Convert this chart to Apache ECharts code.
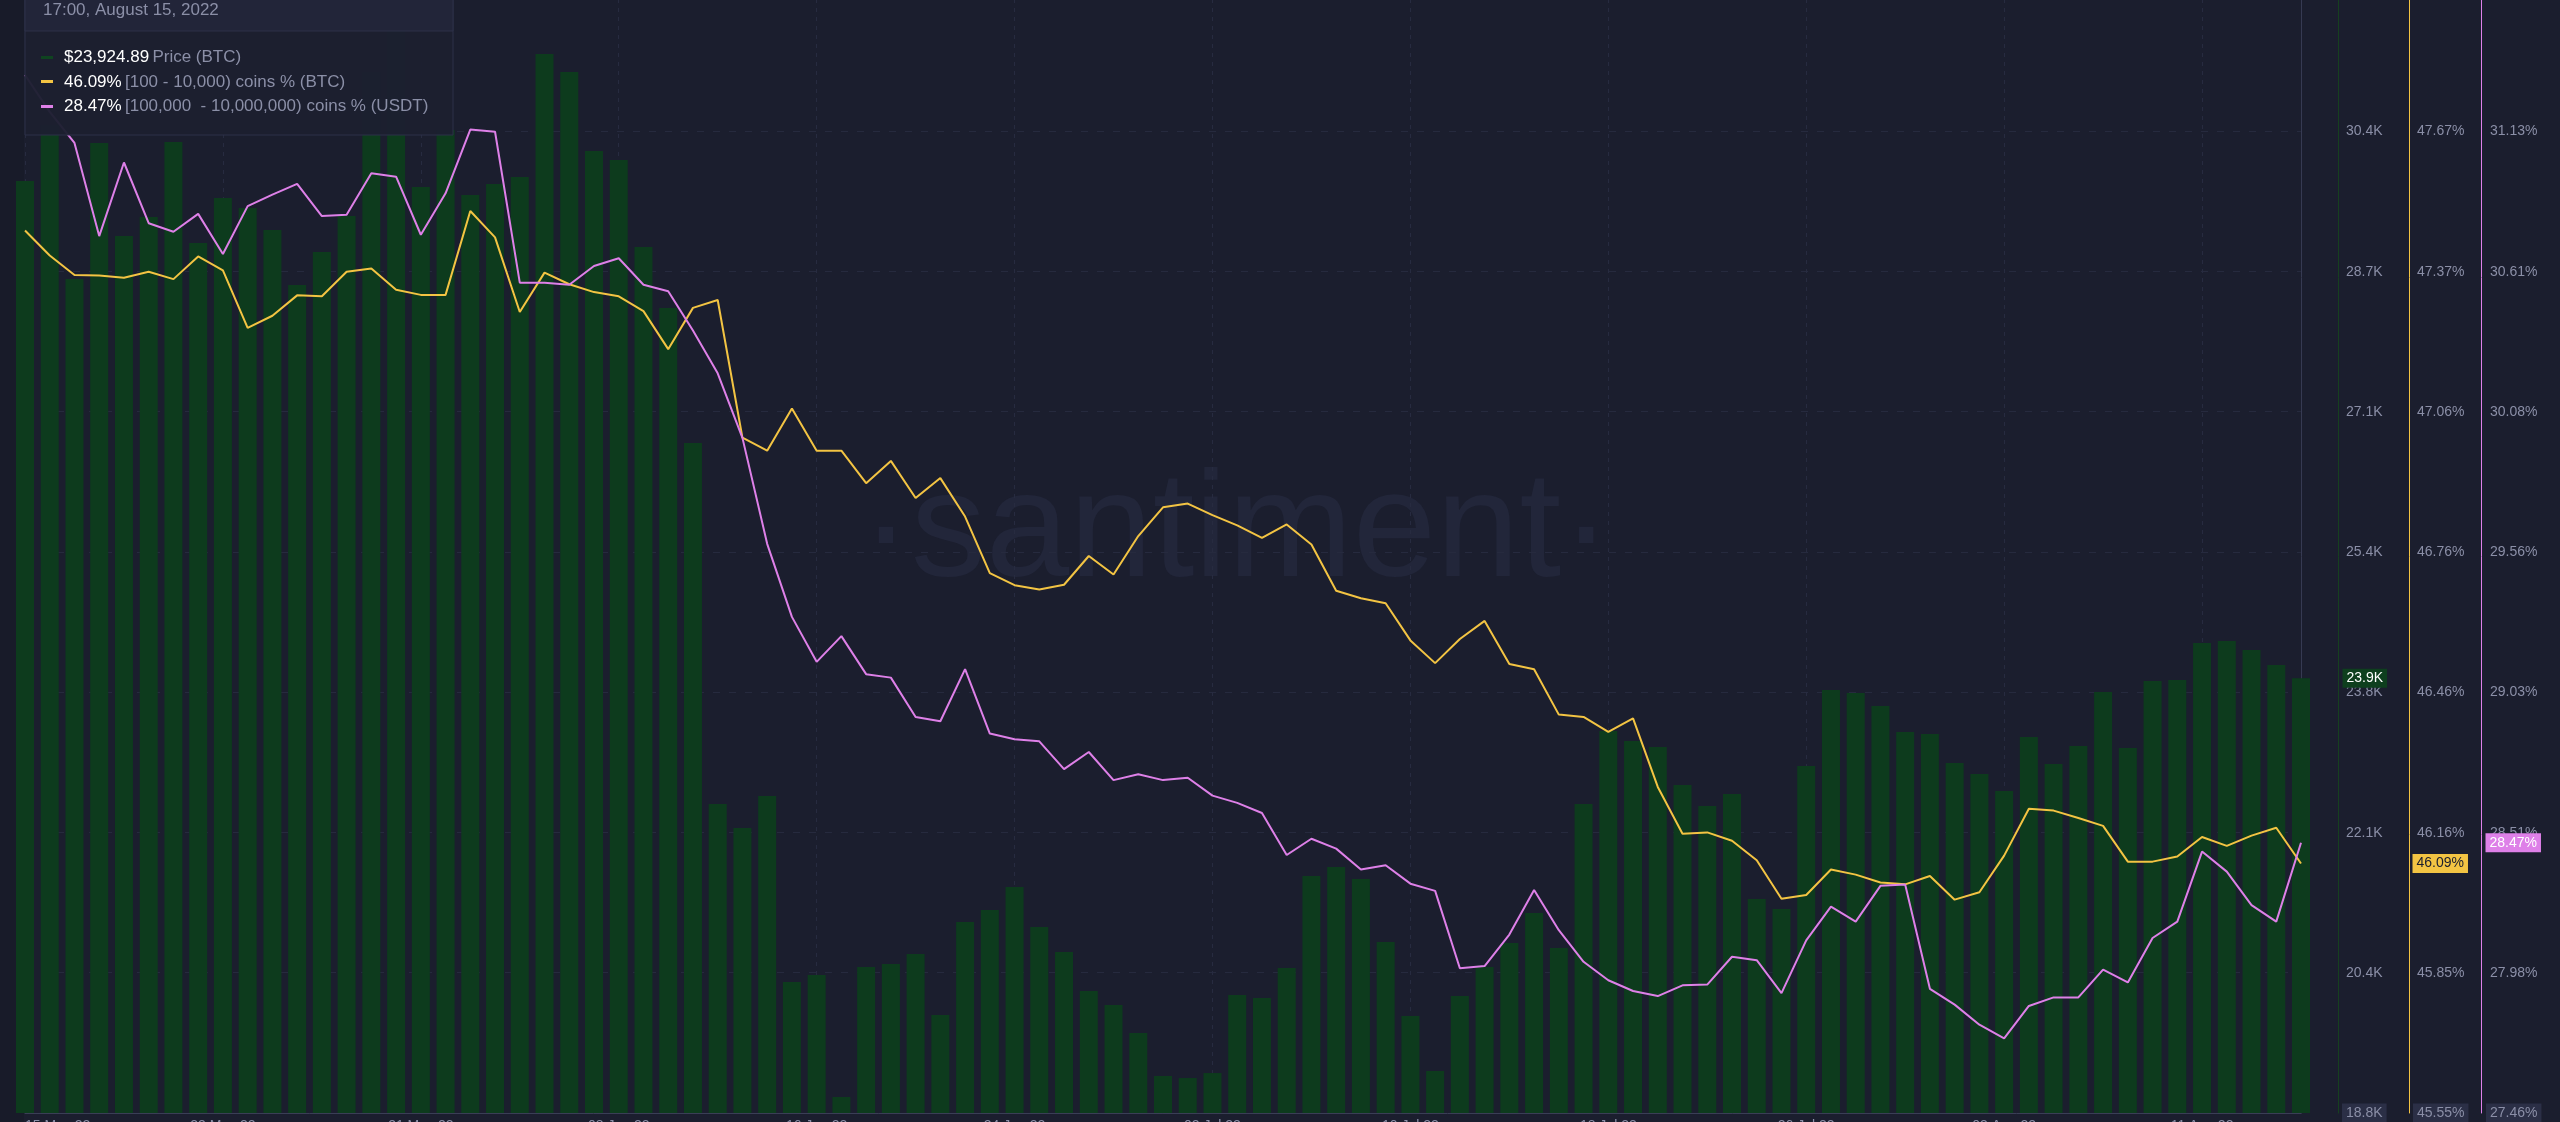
<!DOCTYPE html>
<html>
<head>
<meta charset="utf-8">
<script src="https://cdn.jsdelivr.net/npm/echarts@6/dist/echarts.min.js"></script>
<style>
html,body{margin:0;padding:0;background:#1b1e2e;}
#c{width:2560px;height:1122px;}
</style>
</head>
<body>
<div id="c"></div>
<script>
// ---------- data ----------
const dates = [
 "15 May 22","16 May 22","17 May 22","18 May 22","19 May 22","20 May 22","21 May 22","22 May 22","23 May 22","24 May 22",
 "25 May 22","26 May 22","27 May 22","28 May 22","29 May 22","30 May 22","31 May 22",
 "01 Jun 22","02 Jun 22","03 Jun 22","04 Jun 22","05 Jun 22","06 Jun 22","07 Jun 22","08 Jun 22","09 Jun 22","10 Jun 22",
 "11 Jun 22","12 Jun 22","13 Jun 22","14 Jun 22","15 Jun 22","16 Jun 22","17 Jun 22","18 Jun 22","19 Jun 22","20 Jun 22",
 "21 Jun 22","22 Jun 22","23 Jun 22","24 Jun 22","25 Jun 22","26 Jun 22","27 Jun 22","28 Jun 22","29 Jun 22","30 Jun 22",
 "01 Jul 22","02 Jul 22","03 Jul 22","04 Jul 22","05 Jul 22","06 Jul 22","07 Jul 22","08 Jul 22","09 Jul 22","10 Jul 22",
 "11 Jul 22","12 Jul 22","13 Jul 22","14 Jul 22","15 Jul 22","16 Jul 22","17 Jul 22","18 Jul 22","19 Jul 22","20 Jul 22",
 "21 Jul 22","22 Jul 22","23 Jul 22","24 Jul 22","25 Jul 22","26 Jul 22","27 Jul 22","28 Jul 22","29 Jul 22","30 Jul 22","31 Jul 22",
 "01 Aug 22","02 Aug 22","03 Aug 22","04 Aug 22","05 Aug 22","06 Aug 22","07 Aug 22","08 Aug 22","09 Aug 22","10 Aug 22",
 "11 Aug 22","12 Aug 22","13 Aug 22","14 Aug 22","15 Aug 22"
];

const priceBTC = [
 29797, 30458, 28640, 30246, 29147, 29372, 30258, 29065, 29596, 29478,
 29218, 28569, 28958, 29384, 31084, 31568, 29726, 30399, 29632, 29761,
 29844, 31297, 31084, 30151, 30045, 29017, 28297, 26703, 22439, 22156,
 22534, 20337, 20420, 18979, 20514, 20550, 20668, 19947, 21046, 21187,
 21459, 20987, 20691, 20231, 20065, 19735, 19227, 19203, 19262, 20184,
 20148, 20502, 21589, 21695, 21554, 20810, 19936, 19286, 20172, 20514,
 20798, 21152, 20739, 22439, 23301, 23183, 23112, 22664, 22416, 22557,
 21317, 21199, 22888, 23786, 23750, 23597, 23290, 23266, 22924, 22794,
 22593, 23231, 22912, 23124, 23762, 23101, 23892, 23904, 24341, 24364,
 24258, 24081, 23924.89
];

const btcShare = [
 47.455, 47.401, 47.359, 47.358, 47.353, 47.366, 47.350, 47.399, 47.369, 47.245,
 47.271, 47.315, 47.313, 47.366, 47.373, 47.327, 47.316, 47.316, 47.497, 47.440,
 47.279, 47.364, 47.339, 47.322, 47.313, 47.281, 47.199, 47.288, 47.305, 47.008,
 46.980, 47.071, 46.980, 46.980, 46.910, 46.958, 46.878, 46.921, 46.838, 46.716,
 46.690, 46.681, 46.691, 46.753, 46.713, 46.796, 46.858, 46.866, 46.841, 46.819,
 46.792, 46.821, 46.778, 46.678, 46.662, 46.651, 46.571, 46.522, 46.574, 46.613,
 46.520, 46.509, 46.411, 46.406, 46.374, 46.403, 46.255, 46.154, 46.157, 46.139,
 46.097, 46.014, 46.022, 46.077, 46.066, 46.049, 46.045, 46.063, 46.012, 46.028,
 46.107, 46.208, 46.204, 46.188, 46.171, 46.094, 46.094, 46.105, 46.147, 46.128,
 46.150, 46.167, 46.09
];

const usdtShare = [
 31.339, 31.201, 31.085, 30.737, 31.012, 30.785, 30.753, 30.820, 30.670, 30.849,
 30.892, 30.932, 30.812, 30.817, 30.972, 30.959, 30.742, 30.897, 31.135, 31.127,
 30.563, 30.563, 30.555, 30.625, 30.654, 30.555, 30.531, 30.384, 30.224, 29.983,
 29.587, 29.314, 29.146, 29.242, 29.100, 29.087, 28.940, 28.924, 29.119, 28.878,
 28.857, 28.849, 28.745, 28.809, 28.704, 28.726, 28.704, 28.713, 28.646, 28.619,
 28.581, 28.424, 28.485, 28.448, 28.370, 28.386, 28.317, 28.290, 28.001, 28.009,
 28.127, 28.293, 28.143, 28.025, 27.956, 27.916, 27.897, 27.937, 27.940, 28.044,
 28.031, 27.908, 28.105, 28.231, 28.175, 28.309, 28.314, 27.924, 27.865, 27.790,
 27.739, 27.860, 27.892, 27.892, 27.996, 27.948, 28.114, 28.175, 28.437, 28.362,
 28.237, 28.175, 28.47
];

// axis scales (tick start, step, top)
const priceAxis = { min: 18790, interval: 1657, max: 31947 };
const btcAxis   = { min: 45.552, interval: 0.3025, max: 47.954 };
const usdtAxis  = { min: 27.46, interval: 0.5243, max: 31.623 };

const seriesNames = ["Price (BTC)", "[100 - 10,000) coins % (BTC)", "[100,000  - 10,000,000) coins % (USDT)"];
const tooltipDate = "17:00, August 15, 2022";

// ---------- style ----------
const FONT = "'Liberation Sans', Arial, sans-serif";
const BG = '#1b1e2e';
const GREEN = '#0d3b1d';
const YELLOW = '#f3c443';
const PINK = '#de80e8';
const LABEL = '#8b8fa7';

const fmtK = v => (v / 1000).toFixed(1) + 'K';
const fmtP = v => v.toFixed(2) + '%';

function axisLabel(fmt, margin) {
  return {
    margin: margin,
    showMaxLabel: false,
    formatter: (v, i) => (i === 0 ? '{m|' : '{n|') + fmt(v) + '}',
    rich: {
      n: { color: LABEL, fontSize: 14, fontFamily: FONT, padding: [3, 4, 2, 4] },
      m: { color: LABEL, fontSize: 14, fontFamily: FONT, padding: [3, 4, 2, 4], backgroundColor: '#2b2f46' }
    }
  };
}

const last = dates.length - 1;
const lastPrice = priceBTC[last];
const lastBtc = btcShare[last];
const lastUsdt = usdtShare[last];

const chart = echarts.init(document.getElementById('c'), null, { renderer: 'canvas' });

const option = {
  backgroundColor: BG,
  animation: false,
  grid: { left: 25, right: 259, top: -1, bottom: 9, containLabel: false, outerBoundsMode: 'none' },
  xAxis: {
    type: 'category',
    data: dates,
    boundaryGap: false,
    axisLine: { show: true, lineStyle: { color: '#3a3e56', width: 1 } },
    axisTick: { show: false },
    axisLabel: { color: LABEL, fontSize: 14, fontFamily: FONT, margin: 6, interval: 7, alignMinLabel: 'left' },
    splitLine: { show: true, interval: 7, lineStyle: { color: '#272b40', type: [4, 5] } }
  },
  yAxis: [
    {
      type: 'value', position: 'right', offset: 37,
      min: priceAxis.min, max: priceAxis.max, interval: priceAxis.interval,
      axisLine: { show: true, lineStyle: { color: '#16401f', width: 1 } },
      axisTick: { show: false },
      axisLabel: axisLabel(fmtK, 4),
      splitLine: { show: true, lineStyle: { color: '#262a3e', type: [7, 9] } }
    },
    {
      type: 'value', position: 'right', offset: 108,
      min: btcAxis.min, max: btcAxis.max, interval: btcAxis.interval,
      axisLine: { show: true, lineStyle: { color: YELLOW, width: 1 } },
      axisTick: { show: false },
      axisLabel: axisLabel(fmtP, 4),
      splitLine: { show: false }
    },
    {
      type: 'value', position: 'right', offset: 180,
      min: usdtAxis.min, max: usdtAxis.max, interval: usdtAxis.interval,
      axisLine: { show: true, lineStyle: { color: PINK, width: 1 } },
      axisTick: { show: false },
      axisLabel: axisLabel(fmtP, 5),
      splitLine: { show: false }
    },
    {
      type: 'value', position: 'right', offset: 0, min: 0, max: 1,
      axisLine: { show: true, lineStyle: { color: '#363a52', width: 1 } },
      axisTick: { show: false }, axisLabel: { show: false }, splitLine: { show: false }
    }
  ],
  series: [
    {
      name: seriesNames[0], type: 'bar', yAxisIndex: 0, data: priceBTC,
      barWidth: 18, clip: true,
      itemStyle: { color: GREEN },
      markPoint: {
        symbol: 'circle', symbolSize: 1, itemStyle: { color: 'rgba(0,0,0,0)' },
        data: [{ coord: [last, lastPrice] }],
        label: {
          show: true, position: 'right', distance: 41,
          formatter: () => fmtK(lastPrice),
          color: '#ffffff', fontSize: 14, fontFamily: FONT,
          backgroundColor: '#0e3f1e', padding: [3, 4, 2, 4]
        }
      }
    },
    {
      name: seriesNames[1], type: 'line', yAxisIndex: 1, data: btcShare,
      symbol: 'none', z: 3,
      lineStyle: { color: YELLOW, width: 2 },
      markPoint: {
        symbol: 'circle', symbolSize: 1, itemStyle: { color: 'rgba(0,0,0,0)' },
        data: [{ coord: [last, lastBtc] }],
        label: {
          show: true, position: 'right', distance: 111,
          formatter: () => fmtP(lastBtc),
          color: '#1b1e2e', fontSize: 14, fontFamily: FONT,
          backgroundColor: YELLOW, padding: [3, 4, 2, 4]
        }
      }
    },
    {
      name: seriesNames[2], type: 'line', yAxisIndex: 2, data: usdtShare,
      symbol: 'none', z: 4,
      lineStyle: { color: PINK, width: 2 },
      markPoint: {
        symbol: 'circle', symbolSize: 1, itemStyle: { color: 'rgba(0,0,0,0)' },
        data: [{ coord: [last, lastUsdt] }],
        label: {
          show: true, position: 'right', distance: 184,
          formatter: () => fmtP(lastUsdt),
          color: '#ffffff', fontSize: 14, fontFamily: FONT,
          backgroundColor: PINK, padding: [3, 4, 2, 4]
        }
      }
    }
  ],
  graphic: [
    // darker left strip
    { type: 'rect', z: -10, silent: true,
      shape: { x: 0, y: 0, width: 24, height: 1122 }, style: { fill: '#181b29' } },
    // watermark
    { type: 'text', z: 0, silent: true,
      style: { text: '·santiment·', x: 1236, y: 535, textAlign: 'center', textVerticalAlign: 'middle',
               font: 'normal 150px ' + FONT, fill: '#22263a' } },
    // tooltip-style legend box
    { type: 'group', z: 100, children: [
      { type: 'rect', z: 100, shape: { x: 25, y: -5, width: 428, height: 140 },
        style: { fill: 'rgba(28,31,48,0.96)', stroke: '#2c3048', lineWidth: 1 } },
      { type: 'rect', z: 101, shape: { x: 25, y: -5, width: 428, height: 36 },
        style: { fill: '#222539', stroke: '#2c3048', lineWidth: 1 } },
      { type: 'text', z: 102, style: { x: 43, y: 10, text: tooltipDate, textVerticalAlign: 'middle',
        font: 'normal 17px ' + FONT, fill: '#8b8fa7' } },
      { type: 'rect', z: 102, shape: { x: 41, y: 56, width: 12, height: 3 }, style: { fill: '#0f4420' } },
      { type: 'rect', z: 102, shape: { x: 41, y: 80, width: 12, height: 3 }, style: { fill: YELLOW } },
      { type: 'rect', z: 102, shape: { x: 41, y: 105, width: 12, height: 3 }, style: { fill: PINK } },
      { type: 'text', z: 102, style: { x: 64, y: 57.5, textVerticalAlign: 'middle',
        text: '{v|$' + lastPrice.toLocaleString('en-US', { minimumFractionDigits: 2, maximumFractionDigits: 2 }) + '} {n|' + seriesNames[0] + '}',
        rich: { v: { fill: '#ffffff', font: 'normal 17px ' + FONT }, n: { fill: '#8b8fa7', font: 'normal 17px ' + FONT } } } },
      { type: 'text', z: 102, style: { x: 64, y: 82, textVerticalAlign: 'middle',
        text: '{v|' + fmtP(lastBtc) + '} {n|' + seriesNames[1] + '}',
        rich: { v: { fill: '#ffffff', font: 'normal 17px ' + FONT }, n: { fill: '#8b8fa7', font: 'normal 17px ' + FONT } } } },
      { type: 'text', z: 102, style: { x: 64, y: 106, textVerticalAlign: 'middle',
        text: '{v|' + fmtP(lastUsdt) + '} {n|' + seriesNames[2] + '}',
        rich: { v: { fill: '#ffffff', font: 'normal 17px ' + FONT }, n: { fill: '#8b8fa7', font: 'normal 17px ' + FONT } } } }
    ] }
  ]
};

chart.setOption(option);
</script>
</body>
</html>
